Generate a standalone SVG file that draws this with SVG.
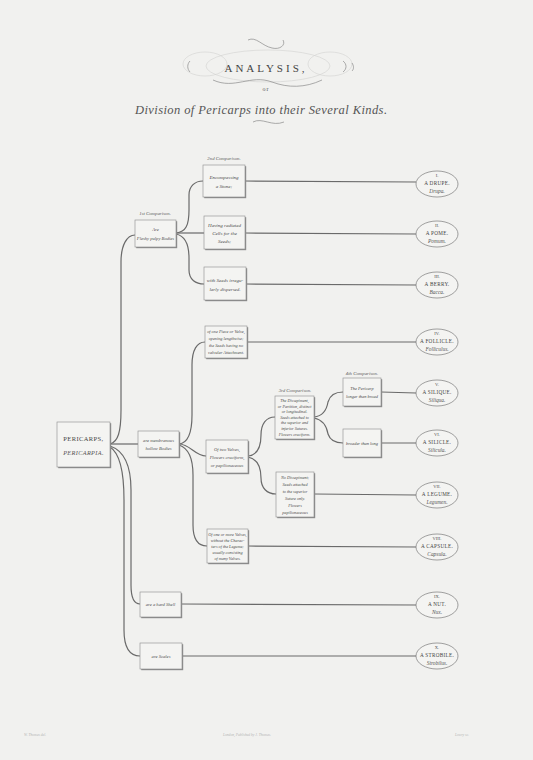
<svg xmlns="http://www.w3.org/2000/svg" width="533" height="760" viewBox="0 0 533 760">
<style>
.bg{fill:#f1f1ef}
.sh{fill:#8c8c8c}
.bx{fill:#f4f4f2;stroke:#8a8a8a;stroke-width:0.6}
.t{font-family:"Liberation Serif",serif;font-style:italic;fill:#4a4a4a;text-anchor:middle;font-size:5px}
.cmp{font-family:"Liberation Serif",serif;font-style:italic;fill:#5a5a5a;text-anchor:middle;font-size:4.8px}
.ov{fill:#f4f4f2;stroke:#7a7a7a;stroke-width:0.7}
.num{font-family:"Liberation Serif",serif;fill:#555;text-anchor:middle;font-size:4.5px}
.nm{font-family:"Liberation Serif",serif;fill:#444;text-anchor:middle;font-size:5.2px;letter-spacing:0.3px}
.la{font-family:"Liberation Serif",serif;font-style:italic;fill:#555;text-anchor:middle;font-size:5.4px}
.c{fill:none;stroke:#6a6a6a;stroke-width:1.2}
.fl{fill:none;stroke:#8a8a8a;stroke-width:0.7}
.fl2{fill:none;stroke:#d2d2d0;stroke-width:0.6}
.ft{font-family:"Liberation Serif",serif;font-style:italic;fill:#b5b5b5;font-size:3.6px}
</style>
<rect class="bg" x="0" y="0" width="533" height="760"/>

<g id="title">
<ellipse class="fl2" cx="268" cy="66" rx="62" ry="16"/>
<ellipse class="fl2" cx="205" cy="64" rx="22" ry="12"/>
<ellipse class="fl2" cx="330" cy="64" rx="22" ry="12"/>
<path class="fl" d="M248,40 C256,36 262,46 272,48 C280,50 286,45 283,40"/>
<path class="fl" d="M213,80 C235,90 250,74 272,82 C288,88 305,88 322,80"/>
<path class="fl" d="M190,61 C187,64 187,69 190,72"/>
<path class="fl" d="M343,61 C347,64 347,69 343,72"/>
<path class="fl" d="M352,63 C354,66 354,69 352,71"/>
<path class="fl" d="M253,122 C262,117 272,127 284,122"/>
<text x="266" y="72" style="font-family:'Liberation Serif',serif;font-size:11px;letter-spacing:3px;fill:#444;text-anchor:middle">ANALYSIS,</text>
<text x="266" y="91" style="font-family:'Liberation Serif',serif;font-size:6px;letter-spacing:1px;fill:#555;text-anchor:middle">or</text>
<text x="261" y="114" textLength="252" style="font-family:'Liberation Serif',serif;font-style:italic;font-size:12.5px;fill:#555;text-anchor:middle">Division of Pericarps into their Several Kinds.</text>
</g>

<g id="connectors">
<path class="c" d="M110,444 C118,442 121,432 121,410 L121,262 C121,245 127,235 135,235"/>
<path class="c" d="M110,444 L138,444"/>
<path class="c" d="M110,446 C122,450 131,462 131,490 L131,585 C131,598 134,604 140,604"/>
<path class="c" d="M110,447 C118,452 124,465 124,500 L124,630 C124,648 130,656 140,656"/>
<path class="c" d="M176,233 C186,232 189,225 189,210 L189,195 C189,186 195,181 203,181"/>
<path class="c" d="M176,233 L204,233"/>
<path class="c" d="M176,234 C186,236 189,245 189,258 L189,270 C189,280 196,284 204,284"/>
<path class="c" d="M179,444 C188,443 192,433 192,415 L192,365 C192,350 197,342 205,342"/>
<path class="c" d="M179,444 C190,444 195,456 206,456"/>
<path class="c" d="M179,445 C188,448 193,458 193,475 L193,525 C193,540 199,546 207,546"/>
<path class="c" d="M248,456 C258,455 261,445 261,435 C261,424 266,417 275,417"/>
<path class="c" d="M248,457 C258,459 261,467 261,478 C261,488 267,494 276,494"/>
<path class="c" d="M314,417 C324,416 327,408 328,402 C330,395 335,392 343,392"/>
<path class="c" d="M314,418 C324,420 327,428 328,434 C330,440 335,443 343,443"/>
<path class="c" d="M245,181 L416,182"/>
<path class="c" d="M245,233 L416,234"/>
<path class="c" d="M246,284 L416,285"/>
<path class="c" d="M247,342 L416,342"/>
<path class="c" d="M381,392 L416,393"/>
<path class="c" d="M381,443 L416,443"/>
<path class="c" d="M314,494 L416,495"/>
<path class="c" d="M248,546 L416,547"/>
<path class="c" d="M181,604 L416,605"/>
<path class="c" d="M182,656 L416,656"/>
</g>

<g id="root">
<rect class="sh" x="58.2" y="423.2" width="53" height="45"/>
<rect class="bx" x="57" y="422" width="53" height="45"/>
<text x="83.5" y="441" style="font-family:'Liberation Serif',serif;font-size:6.5px;letter-spacing:0.4px;fill:#444;text-anchor:middle">PERICARPS,</text>
<text x="83.5" y="455" style="font-family:'Liberation Serif',serif;font-style:italic;font-size:6.2px;letter-spacing:0.4px;fill:#555;text-anchor:middle">PERICARPIA.</text>
</g>

<g id="fleshy">
<text class="cmp" x="155" y="215">1st Comparison.</text>
<rect class="sh" x="136.2" y="221.2" width="41" height="27"/>
<rect class="bx" x="135" y="220" width="41" height="27"/>
<text class="t" x="155.5" y="231" style="font-size:4.6px">Are</text>
<text class="t" x="155.5" y="240" style="font-size:4.6px">Fleshy pulpy Bodies</text>
</g>

<g id="membranous">
<rect class="sh" x="139.2" y="432.2" width="41" height="26"/>
<rect class="bx" x="138" y="431" width="41" height="26"/>
<text class="t" x="158.5" y="442" style="font-size:4.6px">are membranous</text>
<text class="t" x="158.5" y="450" style="font-size:4.6px">hollow Bodies</text>
</g>

<g id="shell">
<rect class="sh" x="141.2" y="593.2" width="41" height="25"/>
<rect class="bx" x="140" y="592" width="41" height="25"/>
<text class="t" x="160.5" y="606" style="font-size:4.6px">are a hard Shell</text>
</g>

<g id="scales">
<rect class="sh" x="141.2" y="644.2" width="42" height="26"/>
<rect class="bx" x="140" y="643" width="42" height="26"/>
<text class="t" x="161" y="658" style="font-size:4.6px">are Scales</text>
</g>

<g id="stone">
<text class="cmp" x="224" y="160">2nd Comparison.</text>
<rect class="sh" x="204.2" y="166.2" width="42" height="32"/>
<rect class="bx" x="203" y="165" width="42" height="32"/>
<text class="t" x="224" y="179">Encompassing</text>
<text class="t" x="224" y="188">a Stone;</text>
</g>

<g id="cells">
<rect class="sh" x="205.2" y="217.2" width="41" height="33"/>
<rect class="bx" x="204" y="216" width="41" height="33"/>
<text class="t" x="224.5" y="227">Having radiated</text>
<text class="t" x="224.5" y="235">Cells for the</text>
<text class="t" x="224.5" y="243">Seeds;</text>
</g>

<g id="irregular">
<rect class="sh" x="205.2" y="268.2" width="42" height="33"/>
<rect class="bx" x="204" y="267" width="42" height="33"/>
<text class="t" x="225" y="282">with Seeds irregu-</text>
<text class="t" x="225" y="291">larly dispersed.</text>
</g>

<g id="onepiece">
<rect class="sh" x="206.2" y="327.2" width="42" height="32"/>
<rect class="bx" x="205" y="326" width="42" height="32"/>
<text class="t" x="226" y="333" style="font-size:4.3px">of one Piece or Valve,</text>
<text class="t" x="226" y="340" style="font-size:4.3px">opening lengthwise;</text>
<text class="t" x="226" y="347" style="font-size:4.3px">the Seeds having no</text>
<text class="t" x="226" y="354" style="font-size:4.3px">valvular Attachment.</text>
</g>

<g id="twovalves">
<rect class="sh" x="207.2" y="441.2" width="42" height="33"/>
<rect class="bx" x="206" y="440" width="42" height="33"/>
<text class="t" x="227" y="451" style="font-size:4.5px">Of two Valves,</text>
<text class="t" x="227" y="459" style="font-size:4.5px">Flowers cruciform,</text>
<text class="t" x="227" y="467" style="font-size:4.5px">or papilionaceous</text>
</g>

<g id="morevalves">
<rect class="sh" x="208.2" y="530.2" width="41" height="34"/>
<rect class="bx" x="207" y="529" width="41" height="34"/>
<text class="t" x="227.5" y="536" style="font-size:4.2px">Of one or more Valves,</text>
<text class="t" x="227.5" y="542" style="font-size:4.2px">without the Charac-</text>
<text class="t" x="227.5" y="548" style="font-size:4.2px">ters of the Legume;</text>
<text class="t" x="227.5" y="554" style="font-size:4.2px">usually consisting</text>
<text class="t" x="227.5" y="560" style="font-size:4.2px">of many Valves.</text>
</g>

<g id="dissepiment">
<text class="cmp" x="295" y="392">3rd Comparison.</text>
<rect class="sh" x="276.2" y="397.2" width="39" height="43"/>
<rect class="bx" x="275" y="396" width="39" height="43"/>
<text class="t" x="294.5" y="402" style="font-size:4.1px">The Dissepiment,</text>
<text class="t" x="294.5" y="407.6" style="font-size:4.1px">or Partition, distinct</text>
<text class="t" x="294.5" y="413.2" style="font-size:4.1px">or longitudinal.</text>
<text class="t" x="294.5" y="418.8" style="font-size:4.1px">Seeds attached to</text>
<text class="t" x="294.5" y="424.4" style="font-size:4.1px">the superior and</text>
<text class="t" x="294.5" y="430" style="font-size:4.1px">inferior Sutures.</text>
<text class="t" x="294.5" y="435.6" style="font-size:4.1px">Flowers cruciform.</text>
</g>

<g id="nodissepiment">
<rect class="sh" x="277.2" y="473.2" width="38" height="45"/>
<rect class="bx" x="276" y="472" width="38" height="45"/>
<text class="t" x="295" y="479" style="font-size:4.2px">No Dissepiment;</text>
<text class="t" x="295" y="486" style="font-size:4.2px">Seeds attached</text>
<text class="t" x="295" y="493" style="font-size:4.2px">to the superior</text>
<text class="t" x="295" y="500" style="font-size:4.2px">Suture only.</text>
<text class="t" x="295" y="507" style="font-size:4.2px">Flowers</text>
<text class="t" x="295" y="514" style="font-size:4.2px">papilionaceous</text>
</g>

<g id="longer">
<text class="cmp" x="362" y="375">4th Comparison.</text>
<rect class="sh" x="344.2" y="379.2" width="38" height="28"/>
<rect class="bx" x="343" y="378" width="38" height="28"/>
<text class="t" x="362" y="390" style="font-size:4.4px">The Pericarp</text>
<text class="t" x="362" y="398" style="font-size:4.4px">longer than broad</text>
</g>

<g id="broader">
<rect class="sh" x="344.2" y="430.2" width="38" height="28"/>
<rect class="bx" x="343" y="429" width="38" height="28"/>
<text class="t" x="362" y="445" style="font-size:4.4px">broader than long</text>
</g>

<g id="drupe">
<ellipse class="ov" cx="437" cy="184" rx="21" ry="13"/>
<text class="num" x="437" y="177">I.</text>
<text class="nm" x="437" y="185">A DRUPE.</text>
<text class="la" x="437" y="193">Drupa.</text>
</g>
<g id="pome">
<ellipse class="ov" cx="437" cy="234" rx="21" ry="13"/>
<text class="num" x="437" y="227">II.</text>
<text class="nm" x="437" y="235">A POME.</text>
<text class="la" x="437" y="243">Pomum.</text>
</g>
<g id="berry">
<ellipse class="ov" cx="437" cy="285" rx="21" ry="13"/>
<text class="num" x="437" y="278">III.</text>
<text class="nm" x="437" y="286">A BERRY.</text>
<text class="la" x="437" y="294">Bacca.</text>
</g>
<g id="follicle">
<ellipse class="ov" cx="437" cy="342" rx="21" ry="13"/>
<text class="num" x="437" y="335">IV.</text>
<text class="nm" x="437" y="343">A FOLLICLE.</text>
<text class="la" x="437" y="351">Folliculus.</text>
</g>
<g id="silique">
<ellipse class="ov" cx="437" cy="393" rx="21" ry="13"/>
<text class="num" x="437" y="386">V.</text>
<text class="nm" x="437" y="394">A SILIQUE.</text>
<text class="la" x="437" y="402">Siliqua.</text>
</g>
<g id="silicle">
<ellipse class="ov" cx="437" cy="443" rx="21" ry="13"/>
<text class="num" x="437" y="436">VI.</text>
<text class="nm" x="437" y="444">A SILICLE.</text>
<text class="la" x="437" y="452">Silicula.</text>
</g>
<g id="legume">
<ellipse class="ov" cx="437" cy="495" rx="21" ry="13"/>
<text class="num" x="437" y="488">VII.</text>
<text class="nm" x="437" y="496">A LEGUME.</text>
<text class="la" x="437" y="504">Legumen.</text>
</g>
<g id="capsule">
<ellipse class="ov" cx="437" cy="547" rx="21" ry="13"/>
<text class="num" x="437" y="540">VIII.</text>
<text class="nm" x="437" y="548">A CAPSULE.</text>
<text class="la" x="437" y="556">Capsula.</text>
</g>
<g id="nut">
<ellipse class="ov" cx="437" cy="605" rx="21" ry="13"/>
<text class="num" x="437" y="598">IX.</text>
<text class="nm" x="437" y="606">A NUT.</text>
<text class="la" x="437" y="614">Nux.</text>
</g>
<g id="strobile">
<ellipse class="ov" cx="437" cy="656" rx="21" ry="13"/>
<text class="num" x="437" y="649">X.</text>
<text class="nm" x="437" y="657">A STROBILE.</text>
<text class="la" x="437" y="665">Strobilus.</text>
</g>

<g id="imprint">
<text class="ft" x="24" y="736">W. Thomas del.</text>
<text class="ft" x="223" y="736">London, Published by J. Thomas.</text>
<text class="ft" x="455" y="736">Lowry sc.</text>
</g>
</svg>
